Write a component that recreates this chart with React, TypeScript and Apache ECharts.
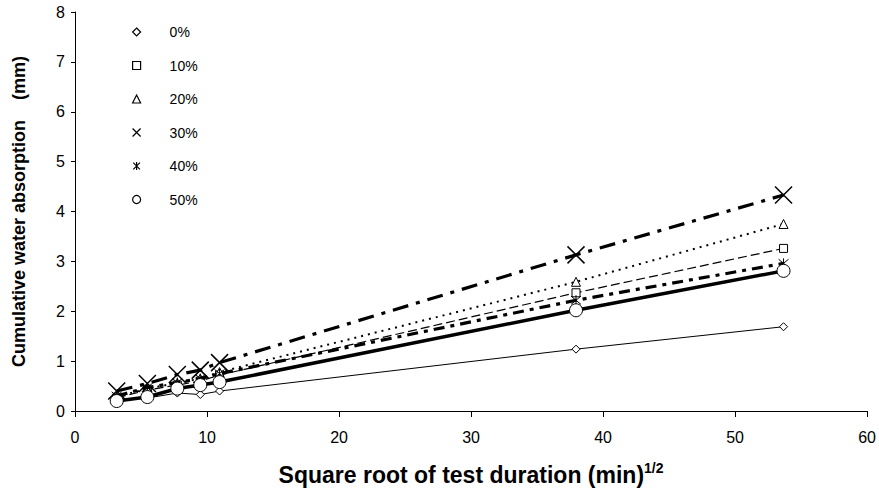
import React, { useEffect, useRef } from "react";
import * as echarts from "echarts";

const xValues = [3.16, 5.48, 7.75, 9.49, 10.95, 37.95, 53.67];
const seriesNames = ["0%", "10%", "20%", "30%", "40%", "50%"];
const s0 = [0.22, 0.26, 0.36, 0.33, 0.4, 1.24, 1.69];
const s10 = [0.26, 0.42, 0.52, 0.6, 0.72, 2.37, 3.26];
const s20 = [0.28, 0.45, 0.56, 0.65, 0.78, 2.59, 3.75];
const s30 = [0.4, 0.55, 0.73, 0.82, 0.97, 3.13, 4.33];
const s40 = [0.3, 0.47, 0.57, 0.65, 0.75, 2.22, 2.96];
const s50 = [0.2, 0.28, 0.45, 0.52, 0.58, 2.02, 2.81];
const xTicks = [0, 10, 20, 30, 40, 50, 60];
const yTicks = [0, 1, 2, 3, 4, 5, 6, 7, 8];

const X_PATH = "path://M0,0L10,10M10,0L0,10";
const AST_PATH = "path://M0,0L10,10M10,0L0,10M5,-1L5,11";

export default function App() {
  const ref = useRef<HTMLDivElement>(null);
  useEffect(() => {
    if (!ref.current) return;
    const chart = echarts.init(ref.current, undefined, { renderer: "svg" });
    const all = [s0, s10, s20, s30, s40, s50];
    const symbols = ["diamond", "rect", "triangle", X_PATH, AST_PATH, "circle"];
    const sizes = [8, 8, 9, 17, 10, 13];
    const lineStyles: any[] = [
      { width: 1, type: "solid" },
      { width: 1.2, type: [9, 4] },
      { width: 2, type: [2, 5] },
      { width: 3.2, type: [16, 8, 4, 8] },
      { width: 3.2, type: [11, 6, 4, 6] },
      { width: 3.5, type: "solid" },
    ];
    const series = all.map((vals, i) => ({
      name: seriesNames[i],
      type: "line",
      data: vals.map((v, j) => [xValues[j], v]),
      symbol: symbols[i],
      symbolSize: sizes[i],
      showAllSymbol: true,
      lineStyle: { color: "#000", ...lineStyles[i] },
      itemStyle: { color: "#fff", borderColor: "#000", borderWidth: i === 3 ? 1.5 : 1 },
      z: 2 + i,
    }));
    chart.setOption({
      animation: false,
      backgroundColor: "#fff",
      grid: { left: 75, right: 9, top: 12, bottom: 89, containLabel: false },
      legend: {
        orient: "vertical",
        left: 127,
        top: 20,
        itemGap: 19.5,
        itemWidth: 8,
        itemHeight: 8,
        textStyle: { fontFamily: "Liberation Sans, Arial", fontSize: 14, lineHeight: 14, color: "#000", padding: [0, 0, 0, 24] },
        data: seriesNames.map((n, i) => ({ name: n, icon: symbols[i] })),
        itemStyle: { color: "#fff", borderColor: "#000", borderWidth: 1.2 },
      },
      xAxis: {
        type: "value",
        min: xTicks[0],
        max: xTicks[xTicks.length - 1],
        interval: 10,
        name: "Square root of test duration (min){sup|1/2}",
        nameLocation: "middle",
        nameGap: 50,
        nameTextStyle: {
          fontFamily: "Liberation Sans, Arial",
          fontWeight: "bold",
          fontSize: 23,
          color: "#000",
          rich: {
            sup: { fontFamily: "Liberation Sans, Arial", fontWeight: "bold", fontSize: 14, padding: [0, 0, 14, 0], color: "#000" },
          },
        },
        axisLine: { lineStyle: { color: "#000", width: 1 } },
        axisTick: { show: true, length: 6, lineStyle: { color: "#000" } },
        axisLabel: { fontFamily: "Liberation Sans, Arial", fontSize: 16, color: "#000", margin: 18 },
        splitLine: { show: false },
      },
      yAxis: {
        type: "value",
        min: yTicks[0],
        max: yTicks[yTicks.length - 1],
        interval: 1,
        name: "Cumulative water absorption    (mm)",
        nameLocation: "middle",
        nameGap: 47,
        nameTextStyle: { fontFamily: "Liberation Sans, Arial", fontWeight: "bold", fontSize: 18, color: "#000" },
        axisLine: { show: true, lineStyle: { color: "#000", width: 1 } },
        axisTick: { show: true, length: 4, lineStyle: { color: "#000" } },
        axisLabel: { fontFamily: "Liberation Sans, Arial", fontSize: 16, color: "#000", margin: 10 },
        splitLine: { show: false },
      },
      series,
    });
    return () => chart.dispose();
  }, []);
  return <div ref={ref} style={{ width: 879, height: 500, position: "absolute", left: 0, top: 0 }} />;
}
